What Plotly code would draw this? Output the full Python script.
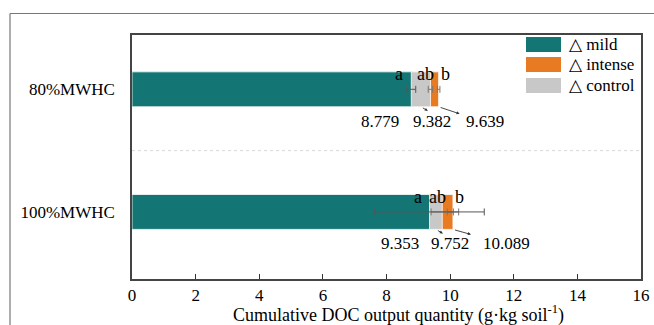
import plotly.graph_objects as go

# ---------------- data ----------------
categories = ["80%MWHC", "100%MWHC"]
mild = [8.779, 9.353]
control = [9.382, 9.752]
intense = [9.639, 10.089]
mild_err = [0.14, 1.72]
control_err = [0.07, 0.35]
intense_err = [0.04, 0.18]
sig_letters = ["a", "ab", "b"]          # for mild, control, intense
series_names = ["\u25b3 mild", "\u25b3 intense", "\u25b3 control"]
x_ticks = [0, 2, 4, 6, 8, 10, 12, 14, 16]
x_title = "Cumulative DOC output quantity (g·kg soil<sup>-1</sup>)"

# ---------------- style ----------------
GREEN = "#137674"
ORANGE = "#E87B22"
GREY = "#C8C8C8"
FONT = "Liberation Serif, Times New Roman, serif"
W, H = 654, 325
L, R, T, B = 132, 13, 35, 46
PW, PH = W - L - R, H - T - B
BAR_W = 0.285
half_bar_px = 17.5

def px(xs):
    return (xs - L) / PW

def py(ys):
    return (H - B - ys) / PH

fig = go.Figure()
for name, vals, errs, col, ecol in [
    ("intense", intense, intense_err, ORANGE, "#777777"),
    ("control", control, control_err, GREY, "#777777"),
    ("mild", mild, mild_err, GREEN, "#555555"),
]:
    fig.add_trace(go.Bar(
        y=categories, x=vals, orientation="h", name=name, width=BAR_W,
        marker=dict(color=col, line=dict(color="white", width=0.8)),
        error_x=dict(type="data", array=errs, color=ecol, thickness=1, width=3.5),
        showlegend=False, hoverinfo="skip",
    ))

annotations = []
letter_shift = [-12, -5, 7]
value_shift = [[-31, 2, 46], [-30, 8, 54]]
arrow_d = [[(7, 4), (21, 7)], [(7, 4), (18, 5)]]
for i, cat in enumerate(categories):
    vals = [mild[i], control[i], intense[i]]
    for j, v in enumerate(vals):
        annotations.append(dict(
            x=v, y=cat, text=sig_letters[j], showarrow=False,
            xshift=letter_shift[j], yshift=15, font=dict(size=18, color="black", family=FONT)))
        annotations.append(dict(
            x=v, y=cat, text=f"{v:.3f}", showarrow=False,
            xshift=value_shift[i][j], yshift=-32, font=dict(size=17, color="black", family=FONT)))
    # arrows from control and intense bars toward their labels
    tails = [(mild[i] + control[i]) / 2, intense[i]]
    for k, tx in enumerate(tails):
        dx, dy = arrow_d[i][k]
        annotations.append(dict(
            x=tx, y=cat, text=" ", showarrow=True, arrowhead=2, arrowsize=0.7,
            arrowwidth=0.9, arrowcolor="#333333", standoff=0, font=dict(size=2),
            xshift=dx, yshift=-(half_bar_px + dy), ax=-dx, ay=-dy))

# legend (manual)
leg_y = [44.5, 64.5, 85.5]
leg_cols = [GREEN, ORANGE, GREY]
shapes = []
for name, yc, col in zip(series_names, leg_y, leg_cols):
    shapes.append(dict(type="rect", xref="paper", yref="paper",
                       x0=px(526), x1=px(561), y0=py(yc + 7.5), y1=py(yc - 7.5),
                       fillcolor=col, line=dict(width=0)))
    annotations.append(dict(xref="paper", yref="paper", x=px(567), y=py(yc),
                            xanchor="left", yanchor="middle", text=name, showarrow=False,
                            font=dict(size=17, color="black", family=FONT)))

# x-axis title
annotations.append(dict(xref="paper", yref="paper", x=px(398), y=py(314),
                        xanchor="center", yanchor="middle", text=x_title, showarrow=False,
                        font=dict(size=18, color="black", family=FONT)))

# separator line between groups
shapes.append(dict(type="line", xref="paper", yref="y", x0=0, x1=1, y0=0.5, y1=0.5,
                   line=dict(color="#D8D8D8", width=1, dash="dot")))
# outer frame fragments
shapes.append(dict(type="line", xref="paper", yref="paper", x0=px(10), x1=px(654),
                   y0=py(13.5), y1=py(13.5), line=dict(color="#777777", width=1.2)))
shapes.append(dict(type="line", xref="paper", yref="paper", x0=px(10), x1=px(10),
                   y0=py(13.5), y1=py(325), line=dict(color="#777777", width=1.2)))

fig.update_layout(
    width=W, height=H, barmode="overlay",
    margin=dict(l=L, r=R, t=T, b=B),
    paper_bgcolor="white", plot_bgcolor="white",
    font=dict(family=FONT, size=17, color="black"),
    annotations=annotations, shapes=shapes,
    xaxis=dict(range=[0, 16], tickvals=x_ticks, ticks="inside", ticklen=5,
               tickcolor="#333", showline=True, linecolor="#444", linewidth=1.5,
               mirror=True, showgrid=False, zeroline=False, automargin=False,
               tickfont=dict(size=17, family=FONT)),
    yaxis=dict(type="category", categoryarray=categories[::-1],
               range=[-0.547, 1.443], showline=True, linecolor="#444", linewidth=1.5,
               mirror=True, showgrid=False, zeroline=False, ticks="", automargin=False,
               ticklabelstandoff=12,
               tickfont=dict(size=17, family=FONT)),
)

fig.write_html("out.html", config={"displayModeBar": False},
               post_script="document.body.style.margin='0';document.body.style.overflow='hidden';")
